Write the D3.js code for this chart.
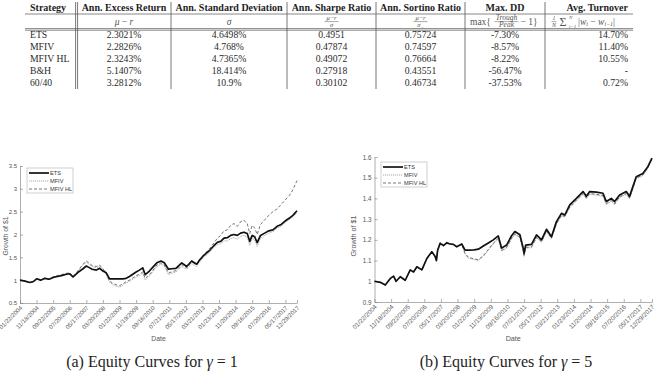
<!DOCTYPE html>
<html>
<head>
<meta charset="utf-8">
<script src="https://cdn.jsdelivr.net/npm/d3@7"></script>
<style>
  body { margin: 0; background: #fff; }
  svg { display: block; }
  .serif, .serif text { font-family: "Liberation Serif", "Times New Roman", Times, serif; }
  .sans, .sans text { font-family: "Liberation Sans", Arial, Helvetica, sans-serif; }
</style>
</head>
<body>
<div id="chart"></div>
<script>
// ---- table values
var headers = ["Strategy", "Ann. Excess Return", "Ann. Standard Deviation", "Ann. Sharpe Ratio",
               "Ann. Sortino Ratio", "Max. DD", "Avg. Turnover"];
var strategies = ["ETS", "MFIV", "MFIV HL", "B&H", "60/40"];
var excessReturn = ["2.3021%", "2.2826%", "2.3243%", "5.1407%", "3.2812%"];
var stdDev = ["4.6498%", "4.768%", "4.7365%", "18.414%", "10.9%"];
var sharpe = ["0.4951", "0.47874", "0.49072", "0.27918", "0.30102"];
var sortino = ["0.75724", "0.74597", "0.76664", "0.43551", "0.46734"];
var maxDD = ["-7.30%", "-8.57%", "-8.22%", "-56.47%", "-37.53%"];
var turnover = ["14.70%", "11.40%", "10.55%", "-", "0.72%"];

// ---- equity curves (x = trading day index)
var dateTicks = ["01/22/2004", "11/18/2004", "09/22/2005", "07/20/2006", "05/17/2007", "03/20/2008",
                 "01/22/2009", "11/19/2009", "09/16/2010", "07/21/2011", "05/17/2012", "03/21/2013",
                 "01/23/2014", "11/20/2014", "09/16/2015", "07/20/2016", "05/17/2017", "12/29/2017"];
var tickDays = [0, 200, 400, 600, 800, 1000, 1200, 1400, 1600, 1800, 2000, 2200, 2400, 2600, 2800, 3000, 3200, 3340];

var daysA = [0, 60, 120, 160, 200, 250, 300, 350, 400, 450, 500, 560, 600, 640, 700, 760, 800, 830, 870, 920,
             960, 1000, 1040, 1080, 1120, 1160, 1200, 1240, 1280, 1320, 1360, 1400, 1440, 1480, 1510, 1560, 1600, 1650, 1700, 1740,
             1790, 1830, 1880, 1950, 2010, 2070, 2130, 2170, 2220, 2290, 2340, 2380, 2420, 2460, 2500, 2540, 2580, 2620, 2660, 2700,
             2740, 2770, 2800, 2830, 2860, 2900, 2950, 3000, 3050, 3100, 3150, 3200, 3250, 3290, 3340];
var etsA = [1.00, 0.98, 0.95, 0.97, 1.03, 1.00, 1.04, 1.02, 1.06, 1.08, 1.10, 1.13, 1.14, 1.07, 1.17, 1.25, 1.31, 1.28, 1.24, 1.22,
            1.26, 1.20, 1.16, 1.03, 1.03, 1.03, 1.03, 1.03, 1.04, 1.08, 1.13, 1.18, 1.22, 1.27, 1.12, 1.20, 1.28, 1.38, 1.42, 1.38,
            1.24, 1.25, 1.26, 1.38, 1.30, 1.42, 1.35, 1.45, 1.55, 1.66, 1.76, 1.83, 1.85, 1.92, 1.93, 1.98, 2.00, 1.98, 2.03, 2.05,
            2.02, 1.85, 1.98, 1.95, 1.82, 1.98, 2.03, 2.08, 2.10, 2.18, 2.22, 2.30, 2.36, 2.42, 2.52];
var mfivA = [1.00, 0.98, 0.95, 0.96, 1.03, 0.99, 1.04, 1.01, 1.06, 1.09, 1.11, 1.14, 1.15, 1.06, 1.20, 1.33, 1.40, 1.35, 1.30, 1.27,
             1.31, 1.22, 1.12, 0.95, 0.90, 0.87, 0.85, 0.89, 0.94, 0.97, 1.02, 1.07, 1.10, 1.15, 1.00, 1.09, 1.18, 1.30, 1.35, 1.31,
             1.12, 1.15, 1.18, 1.30, 1.24, 1.36, 1.30, 1.41, 1.51, 1.62, 1.72, 1.78, 1.80, 1.86, 1.86, 1.91, 1.93, 1.90, 1.96, 1.98,
             1.94, 1.76, 1.92, 1.88, 1.74, 1.92, 1.98, 2.03, 2.06, 2.14, 2.18, 2.27, 2.33, 2.39, 2.47];
var mfivHlA = [1.00, 0.98, 0.95, 0.96, 1.04, 1.00, 1.05, 1.02, 1.07, 1.10, 1.12, 1.15, 1.16, 1.07, 1.21, 1.35, 1.42, 1.38, 1.32, 1.30,
               1.33, 1.25, 1.15, 0.98, 0.93, 0.90, 0.88, 0.92, 0.97, 1.00, 1.05, 1.10, 1.13, 1.18, 1.04, 1.12, 1.21, 1.33, 1.38, 1.34,
               1.16, 1.18, 1.21, 1.34, 1.27, 1.40, 1.34, 1.46, 1.57, 1.70, 1.82, 1.92, 1.98, 2.08, 2.10, 2.20, 2.24, 2.18, 2.28, 2.31,
               2.24, 2.02, 2.20, 2.14, 2.00, 2.22, 2.32, 2.42, 2.50, 2.56, 2.66, 2.76, 2.86, 2.98, 3.18];

var daysB = [0, 70, 130, 190, 230, 260, 310, 370, 430, 470, 510, 570, 630, 690, 730, 745, 760, 790, 830, 870,
             910, 950, 990, 1050, 1090, 1130, 1200, 1250, 1310, 1370, 1430, 1490, 1530, 1590, 1650, 1690, 1750, 1790, 1800, 1820,
             1890, 1950, 2010, 2070, 2130, 2190, 2250, 2290, 2350, 2430, 2510, 2550, 2590, 2670, 2750, 2790, 2850, 2890, 2950, 3030,
             3070, 3150, 3230, 3290, 3340];
var etsB = [1.000, 0.995, 0.982, 1.014, 1.025, 1.000, 1.022, 1.005, 1.055, 1.045, 1.070, 1.055, 1.110, 1.143, 1.120, 1.100, 1.150, 1.183, 1.172, 1.185,
            1.180, 1.178, 1.167, 1.180, 1.150, 1.150, 1.152, 1.155, 1.170, 1.185, 1.200, 1.219, 1.160, 1.175, 1.220, 1.240, 1.225, 1.160, 1.135, 1.175,
            1.178, 1.224, 1.200, 1.251, 1.215, 1.288, 1.328, 1.320, 1.369, 1.400, 1.433, 1.410, 1.433, 1.430, 1.425, 1.385, 1.400, 1.385, 1.417, 1.433,
            1.410, 1.505, 1.520, 1.553, 1.594];
var mfivB = [1.000, 0.995, 0.982, 1.012, 1.024, 0.999, 1.021, 1.004, 1.053, 1.044, 1.068, 1.054, 1.108, 1.141, 1.118, 1.098, 1.148, 1.186, 1.175, 1.188,
             1.182, 1.176, 1.165, 1.178, 1.130, 1.112, 1.105, 1.100, 1.120, 1.150, 1.180, 1.205, 1.145, 1.160, 1.205, 1.225, 1.210, 1.145, 1.120, 1.160,
             1.162, 1.210, 1.188, 1.240, 1.205, 1.275, 1.315, 1.310, 1.355, 1.388, 1.420, 1.398, 1.420, 1.416, 1.410, 1.370, 1.386, 1.370, 1.404, 1.420,
             1.398, 1.494, 1.510, 1.545, 1.590];
var mfivHlB = [1.000, 0.995, 0.983, 1.013, 1.025, 1.000, 1.022, 1.005, 1.054, 1.045, 1.069, 1.055, 1.109, 1.142, 1.119, 1.099, 1.149, 1.187, 1.176, 1.189,
               1.183, 1.177, 1.166, 1.179, 1.135, 1.116, 1.108, 1.104, 1.124, 1.154, 1.184, 1.208, 1.150, 1.164, 1.209, 1.229, 1.214, 1.150, 1.125, 1.164,
               1.166, 1.213, 1.192, 1.244, 1.209, 1.279, 1.319, 1.314, 1.359, 1.392, 1.424, 1.402, 1.424, 1.420, 1.414, 1.375, 1.390, 1.374, 1.408, 1.424,
               1.402, 1.498, 1.514, 1.549, 1.592];

var yTicksA = [0.5, 1, 1.5, 2, 2.5, 3, 3.5];
var yTicksB = [0.9, 1, 1.1, 1.2, 1.3, 1.4, 1.5, 1.6];
var seriesNames = ["ETS", "MFIV", "MFIV HL"];

var svg = d3.select("#chart").append("svg")
    .attr("width", 657)
    .attr("height", 385);

//------------------------------------------------------------ table
var tbl = svg.append("g").attr("class", "serif");
var colX = [30, 124, 229, 331.5, 420.5, 505, 628];
var colAnchor = ["start", "middle", "middle", "middle", "middle", "middle", "end"];
var columns = [strategies, excessReturn, stdDev, sharpe, sortino, maxDD, turnover];
var rowY = d3.scalePoint().domain(d3.range(strategies.length)).range([37.6, 85.6]);

tbl.selectAll(".hdr")
    .data(headers)
  .enter().append("text")
    .attr("x", function(d, i) { return colX[i]; })
    .attr("y", 11)
    .attr("text-anchor", function(d, i) { return colAnchor[i]; })
    .style("font-size", "10px")
    .style("font-weight", "bold")
    .style("fill", "#1e1e1e")
    .text(function(d) { return d; });

columns.forEach(function(col, c) {
  tbl.selectAll(".c" + c)
      .data(col)
    .enter().append("text")
      .attr("x", colX[c])
      .attr("y", function(d, i) { return rowY(i); })
      .attr("text-anchor", colAnchor[c])
      .style("font-size", "9.7px")
      .style("fill", "#2a2a2a")
      .text(function(d) { return d; });
});

//rules
var ruleColor = "#555";
[14, 28.6, 30.2].forEach(function(yy) {
  tbl.append("line").attr("x1", 25).attr("x2", 633).attr("y1", yy).attr("y2", yy)
    .style("stroke", ruleColor).style("stroke-width", 0.7);
});
[75.6, 77.6, 171, 287, 376, 465, 545].forEach(function(xx) {
  tbl.append("line").attr("x1", xx).attr("x2", xx).attr("y1", 2).attr("y2", 89)
    .style("stroke", ruleColor).style("stroke-width", 0.8);
});

//formula row
var fcol = "#555";
function ftext(x, y, size, anchor) {
  return tbl.append("text").attr("x", x).attr("y", y).attr("text-anchor", anchor || "middle")
    .style("font-size", size + "px").style("fill", fcol);
}
function frac(cx, num, den, size, halfW) {
  ftext(cx, 19.6, size).style("font-style", "italic").text(num);
  tbl.append("line").attr("x1", cx - halfW).attr("x2", cx + halfW).attr("y1", 21.6).attr("y2", 21.6)
    .style("stroke", fcol).style("stroke-width", 0.5);
  return ftext(cx, 27.4, size).style("font-style", "italic").text(den);
}
var t1 = ftext(124, 24.6, 9.5);
t1.append("tspan").style("font-style", "italic").text("μ");
t1.append("tspan").text(" − ");
t1.append("tspan").style("font-style", "italic").text("r");
ftext(229, 24.6, 9.5).style("font-style", "italic").text("σ");
frac(331.5, "μ−r", "σ", 6.5, 7);
var den5 = frac(420.5, "μ−r", "σ", 6.5, 7);
den5.append("tspan").attr("dy", 1.5).style("font-size", "5px").text("−");
ftext(470, 24.6, 9.5, "start").text("max{");
frac(506.5, "Trough", "Peak", 7.5, 12);
ftext(520.5, 24.6, 9.5, "start").text("− 1}");
frac(554, "1", "N", 6, 2.5);
ftext(563, 25.6, 12).text("Σ");
ftext(569, 27.8, 5, "start").style("font-style", "italic").text("i=1");
ftext(569, 18.6, 5, "start").style("font-style", "italic").text("N");
var t7 = ftext(578, 24.6, 9.5, "start");
t7.append("tspan").text("|");
t7.append("tspan").style("font-style", "italic").text("w");
t7.append("tspan").attr("dy", 1.8).style("font-size", "6px").style("font-style", "italic").text("i");
t7.append("tspan").attr("dy", -1.8).text(" − ");
t7.append("tspan").style("font-style", "italic").text("w");
t7.append("tspan").attr("dy", 1.8).style("font-size", "6px").style("font-style", "italic").text("i−1");
t7.append("tspan").attr("dy", -1.8).text("|");

//------------------------------------------------------------ equity panels
function drawPanel(p) {
  var g = svg.append("g").attr("class", "sans");
  var x = d3.scaleLinear().domain([0, tickDays[tickDays.length - 1]]).range([p.left, p.right]);
  var y = d3.scaleLinear().domain([p.yTicks[0], p.yTicks[p.yTicks.length - 1]]).range([p.bottom, p.top]);

  var xAxis = d3.axisBottom(x)
      .tickValues(tickDays)
      .tickFormat(function(d, i) { return dateTicks[i]; })
      .tickSizeInner(-3)
      .tickSizeOuter(0);
  var yAxis = d3.axisLeft(y)
      .tickValues(p.yTicks)
      .tickFormat(d3.format("~g"))
      .tickSizeInner(-3)
      .tickSizeOuter(0)
      .tickPadding(3);

  var gx = g.append("g")
      .attr("transform", "translate(0," + p.bottom + ")")
      .call(xAxis);
  gx.selectAll("text")
      .attr("x", 0).attr("y", 0).attr("dy", "0.3em")
      .attr("text-anchor", "end")
      .attr("transform", "translate(1,4) rotate(-45)");

  g.append("g")
      .attr("transform", "translate(" + p.left + ",0)")
      .call(yAxis);

  g.selectAll(".domain, .tick line").style("stroke", "#7a7a7a").style("stroke-width", 0.6);
  g.selectAll(".tick text").style("fill", "#555").style("font-size", p.tickSize + "px")
      .style("font-family", "'Liberation Sans', Arial, sans-serif");

  g.append("text")
      .attr("x", (p.left + p.right) / 2)
      .attr("y", 341)
      .attr("text-anchor", "middle")
      .style("font-size", p.labelSize + "px").style("fill", "#555")
      .text("Date");
  g.append("text")
      .attr("transform", "translate(" + p.yLabelX + "," + p.yLabelY + ") rotate(-90)")
      .attr("text-anchor", "middle")
      .style("font-size", p.labelSize + "px").style("fill", "#555")
      .text("Growth of $1");

  var line = d3.line()
      .x(function(d) { return x(d[0]); })
      .y(function(d) { return y(d[1]); });
  function pairs(vals) { return p.days.map(function(dd, i) { return [dd, vals[i]]; }); }

  var styles = [
    {stroke: "#111", width: 1.7, dash: null},
    {stroke: "#a0a0a0", width: 0.9, dash: "1.2,0.8"},
    {stroke: "#3a3a3a", width: 0.7, dash: "3,2"}
  ];
  var vals = [p.ets, p.mfiv, p.hl];
  [1, 2, 0].forEach(function(k) {
    g.append("path")
        .datum(pairs(vals[k]))
        .attr("d", line)
        .style("fill", "none")
        .style("stroke", styles[k].stroke)
        .style("stroke-width", styles[k].width)
        .style("stroke-dasharray", styles[k].dash)
        .style("stroke-linejoin", "round");
  });

  //legend
  var lg = g.append("g").attr("transform", "translate(" + p.legend[0] + "," + p.legend[1] + ")");
  lg.append("rect").attr("width", 46).attr("height", 25)
      .style("fill", "#fff").style("stroke", "#b0b0b0").style("stroke-width", 0.6);
  seriesNames.forEach(function(name, k) {
    var yy = 5 + k * 8;
    lg.append("line").attr("x1", 2).attr("x2", 22).attr("y1", yy).attr("y2", yy)
      .style("stroke", styles[k].stroke).style("stroke-width", styles[k].width)
      .style("stroke-dasharray", styles[k].dash);
    lg.append("text").attr("x", 23).attr("y", yy).attr("dy", "0.35em")
      .style("font-size", "5.6px").style("fill", "#333").text(name);
  });

  //caption
  var cap = svg.append("text")
      .attr("class", "serif")
      .attr("x", p.capX).attr("y", 367)
      .attr("text-anchor", "middle")
      .style("font-size", "16px").style("fill", "#1e1e1e");
  cap.append("tspan").text(p.capLetter + " Equity Curves for ");
  cap.append("tspan").style("font-style", "italic").text("γ");
  cap.append("tspan").text(" = " + p.gamma);
}

drawPanel({left: 20, right: 297, top: 166, bottom: 303, yTicks: yTicksA, yLabelX: 8, yLabelY: 236,
           tickSize: 6, labelSize: 6.8,
           days: daysA, ets: etsA, mfiv: mfivA, hl: mfivHlA,
           legend: [27, 168], capX: 152, capLetter: "(a)", gamma: 1});
drawPanel({left: 374.5, right: 652, top: 157, bottom: 302, yTicks: yTicksB, yLabelX: 356, yLabelY: 236,
           tickSize: 6.3, labelSize: 7.2,
           days: daysB, ets: etsB, mfiv: mfivB, hl: mfivHlB,
           legend: [381, 162], capX: 506, capLetter: "(b)", gamma: 5});
</script>
</body>
</html>
